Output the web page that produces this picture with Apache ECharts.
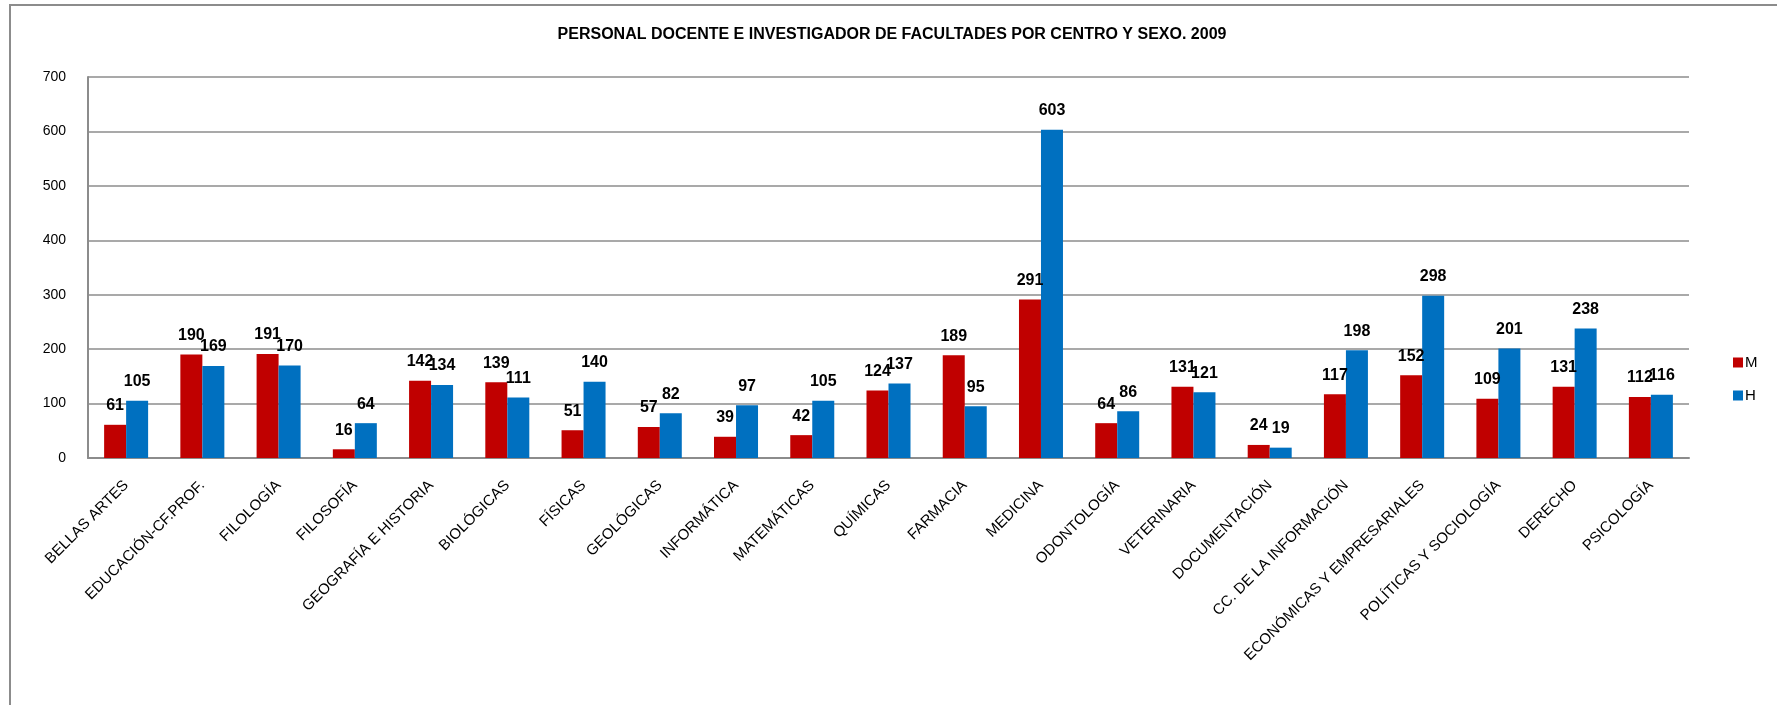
<!DOCTYPE html>
<html>
<head>
<meta charset="utf-8">
<script src="https://cdn.jsdelivr.net/npm/echarts@6/dist/echarts.min.js"></script>
<style>
  html, body { margin: 0; padding: 0; background: #fff; }
  #chart01 { width: 1777px; height: 705px; }
</style>
</head>
<body>
<div id="chart01"></div>
<script>
// datos
var categorias = ['BELLAS ARTES', 'EDUCACIÓN-CF.PROF.', 'FILOLOGÍA', 'FILOSOFÍA', 'GEOGRAFÍA E HISTORIA',
  'BIOLÓGICAS', 'FÍSICAS', 'GEOLÓGICAS', 'INFORMÁTICA', 'MATEMÁTICAS', 'QUÍMICAS', 'FARMACIA',
  'MEDICINA', 'ODONTOLOGÍA', 'VETERINARIA', 'DOCUMENTACIÓN', 'CC. DE LA INFORMACIÓN',
  'ECONÓMICAS Y EMPRESARIALES', 'POLÍTICAS Y SOCIOLOGÍA', 'DERECHO', 'PSICOLOGÍA'];
var mujeres = [61, 190, 191, 16, 142, 139, 51, 57, 39, 42, 124, 189, 291, 64, 131, 24, 117, 152, 109, 131, 112];
var hombres = [105, 169, 170, 64, 134, 111, 140, 82, 97, 105, 137, 95, 603, 86, 121, 19, 198, 298, 201, 238, 116];
var yTicks = [0, 100, 200, 300, 400, 500, 600, 700];

var fuente = 'Liberation Sans, Arial, sans-serif';
var chart01 = echarts.init(document.getElementById('chart01'));
var option = {
  animation: false,
  textStyle: { fontFamily: fuente },
  // marco
  graphic: [{
    type: 'rect',
    shape: { x: 10, y: 5, width: 1900, height: 900 },
    style: { fill: 'none', stroke: '#8c8c8c', lineWidth: 2 },
    silent: true
  }],
  title: {
    text: 'PERSONAL DOCENTE E INVESTIGADOR DE FACULTADES POR CENTRO Y SEXO. 2009',
    left: 887,
    top: 22,
    textAlign: 'center',
    textStyle: { fontSize: 16, fontWeight: 'bold', color: '#000', fontFamily: fuente }
  },
  legend: {
    data: ['M', 'H'],
    orient: 'vertical',
    left: 1728,
    top: 350,
    itemWidth: 10,
    itemHeight: 10,
    itemGap: 18,
    icon: 'rect',
    textStyle: { fontSize: 15, color: '#000', padding: [0, 0, 0, -3] }
  },
  grid: { left: 88, right: 88, top: 77, bottom: 247 },
  xAxis: {
    type: 'category',
    data: categorias,
    axisLine: { lineStyle: { color: '#8c8c8c', width: 2 } },
    axisTick: { show: false },
    axisLabel: {
      interval: 0,
      rotate: 45,
      fontSize: 15,
      color: '#000',
      margin: 25
    }
  },
  yAxis: {
    type: 'value',
    min: yTicks[0],
    max: yTicks[yTicks.length - 1],
    interval: 100,
    axisLine: { show: true, lineStyle: { color: '#8c8c8c', width: 2 } },
    axisTick: { show: false },
    splitLine: { lineStyle: { color: '#8c8c8c', width: 1.5 } },
    axisLabel: { fontSize: 14, color: '#000', margin: 22 }
  },
  series: [
    {
      name: 'M',
      type: 'bar',
      data: mujeres,
      barWidth: 22,
      barGap: '0%',
      itemStyle: { color: '#C00000' },
      label: { show: true, position: 'top', distance: 11, fontSize: 16, fontWeight: 'bold', color: '#000' }
    },
    {
      name: 'H',
      type: 'bar',
      data: hombres,
      barWidth: 22,
      barGap: '0%',
      itemStyle: { color: '#0070C0' },
      label: { show: true, position: 'top', distance: 11, fontSize: 16, fontWeight: 'bold', color: '#000' }
    }
  ]
};
chart01.setOption(option);
</script>
</body>
</html>
